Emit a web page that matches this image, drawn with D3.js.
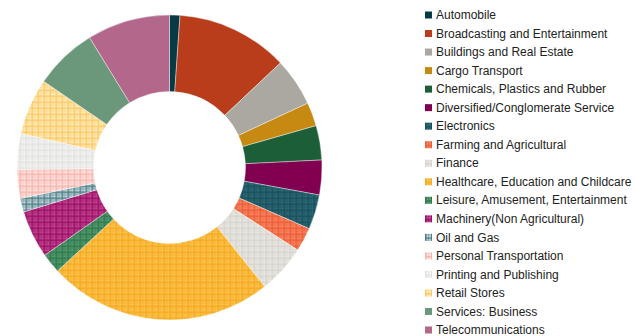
<!DOCTYPE html>
<html>
<head>
<meta charset="utf-8">
<script src="https://cdn.jsdelivr.net/npm/d3@7"></script>
<style>
  html, body { margin: 0; padding: 0; background: #fff; }
  svg { display: block; }
</style>
</head>
<body>
<svg id="chart" width="635" height="336"></svg>
<script>
// Share of portfolio by industry (%)
const categories = [
  "Automobile",
  "Broadcasting and Entertainment",
  "Buildings and Real Estate",
  "Cargo Transport",
  "Chemicals, Plastics and Rubber",
  "Diversified/Conglomerate Service",
  "Electronics",
  "Farming and Agricultural",
  "Finance",
  "Healthcare, Education and Childcare",
  "Leisure, Amusement, Entertainment",
  "Machinery(Non Agricultural)",
  "Oil and Gas",
  "Personal Transportation",
  "Printing and Publishing",
  "Retail Stores",
  "Services: Business",
  "Telecommunications"
];
const values = [1.1, 11.87, 5.1, 2.51, 3.64, 3.68, 3.68, 2.53, 5.16, 23.88, 2.11, 5.05, 1.45, 3.06, 3.78, 5.97, 6.67, 8.78];

// Fill style per category: solid colour, or a grid pattern (background + line colour)
const styles = [
  { solid: "#063a45" },
  { solid: "#b93c1b" },
  { solid: "#aba8a2" },
  { solid: "#c68a12" },
  { solid: "#1b5e38" },
  { solid: "#810050" },
  { bg: "#2f6b77", line: "#174f5b" },
  { bg: "#f58a68", line: "#ef5a32" },
  { bg: "#ebe9e4", line: "#d6d3cc" },
  { bg: "#fcc65a", line: "#f6a91b" },
  { bg: "#5a9a72", line: "#2c7a4b" },
  { bg: "#c04a90", line: "#9b0d66" },
  { bg: "#c9dadd", line: "#4d7e88" },
  { bg: "#fde9e6", line: "#f6b3ab" },
  { bg: "#f5f5f4", line: "#e2e2e0" },
  { bg: "#fef0d0", line: "#fcc85c" },
  { solid: "#6b977a" },
  { solid: "#b3688b" }
];

const svg = d3.select("#chart");
const defs = svg.append("defs");

styles.forEach((s, i) => {
  if (s.solid) return;
  const p = defs.append("pattern")
    .attr("id", "pat" + i)
    .attr("patternUnits", "userSpaceOnUse")
    .attr("width", 6).attr("height", 6);
  p.append("rect").attr("width", 6).attr("height", 6).attr("fill", s.bg);
  p.append("path")
    .attr("d", "M0,0.75H6M0.75,0V6")
    .attr("stroke", s.line).attr("stroke-width", 1.5).attr("fill", "none");
  p.append("path")
    .attr("d", "M0,3.5H6M3.5,0V6")
    .attr("stroke", s.line).attr("stroke-width", 0.8).attr("stroke-opacity", 0.6).attr("fill", "none");
});

const fillOf = i => styles[i].solid ? styles[i].solid : "url(#pat" + i + ")";

// Donut
const cx = 169.5, cy = 167.5, outerR = 152.5, innerR = 76;
const pie = d3.pie().sort(null).value(d => d.v);
const arc = d3.arc().innerRadius(innerR).outerRadius(outerR);
const data = categories.map((c, i) => ({ c, v: values[i], i }));

svg.append("g")
  .attr("transform", `translate(${cx},${cy})`)
  .selectAll("path")
  .data(pie(data))
  .join("path")
  .attr("d", arc)
  .attr("fill", d => fillOf(d.data.i))
  .attr("stroke", "#ffffff")
  .attr("stroke-width", 0.4);

// Legend
const legendY = d3.scalePoint().domain(categories).range([15, 330]);
const legend = svg.append("g");
const item = legend.selectAll("g")
  .data(data)
  .join("g")
  .attr("transform", d => `translate(425,${legendY(d.c)})`);

item.append("rect")
  .attr("x", 0).attr("y", -3.5)
  .attr("width", 7).attr("height", 7)
  .attr("fill", d => fillOf(d.i));

item.append("text")
  .attr("x", 11).attr("y", 0)
  .attr("dy", "0.35em")
  .attr("font-family", "Liberation Sans, Arial, sans-serif")
  .attr("font-size", 12)
  .attr("fill", "#222")
  .text(d => d.c);
</script>
</body>
</html>
